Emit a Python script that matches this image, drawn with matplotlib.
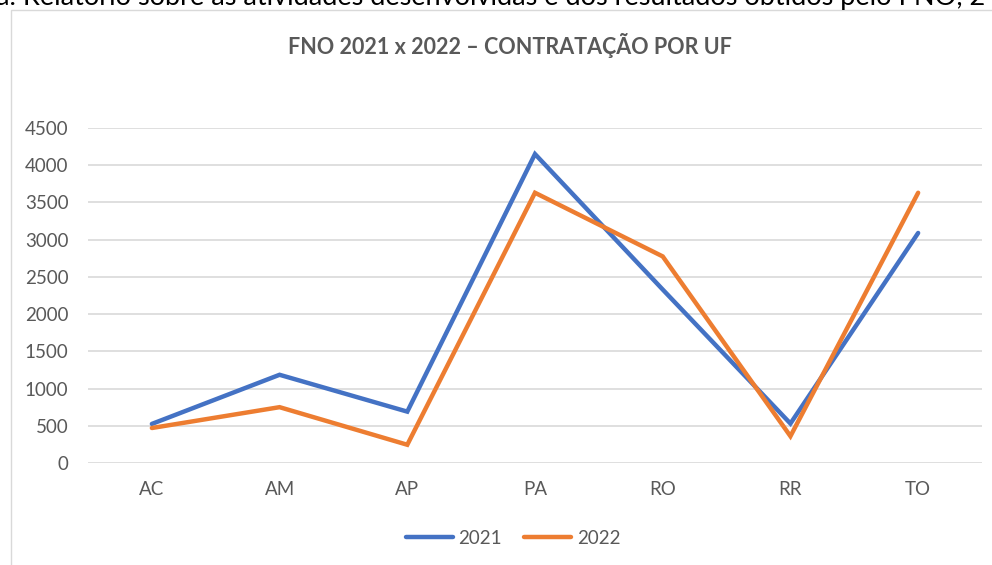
import matplotlib
matplotlib.use("Agg")
from matplotlib import pyplot as plt
from matplotlib.patches import Rectangle

ufs = ["AC", "AM", "AP", "PA", "RO", "RR", "TO"]
valores_2021 = [525, 1185, 690, 4150, 2330, 530, 3090]
valores_2022 = [470, 750, 245, 3630, 2775, 360, 3630]
yticks = [0, 500, 1000, 1500, 2000, 2500, 3000, 3500, 4000, 4500]

AZUL = "#4472C4"
LARANJA = "#ED7D31"
CINZA = "#595959"

plt.rcParams["font.family"] = ["Lato", "DejaVu Sans"]

fig = plt.figure(figsize=(9.92, 5.65), dpi=100)

# moldura do grafico
fig.patches.append(Rectangle((11 / 992, -0.05), 1.0, 1 - 10 / 565 + 0.05,
                             transform=fig.transFigure, fill=False,
                             edgecolor="#D9D9D9", linewidth=1.0))

# linha do texto do relatorio, cortada no topo
fig.text(-0.004, 1 - 5 / 565,
         "a. Relatório sobre as atividades desenvolvidas e dos resultados obtidos pelo FNO, 2",
         fontsize=19.5, color="black", va="baseline", ha="left")

ax = fig.add_axes([88 / 992, 1 - 463 / 565, (982 - 88) / 992, (463 - 128) / 565])
x = range(len(ufs))
ax.plot(x, valores_2021, color=AZUL, linewidth=3.2, label="2021",
        solid_joinstyle="miter", solid_capstyle="round")
ax.plot(x, valores_2022, color=LARANJA, linewidth=3.2, label="2022",
        solid_joinstyle="miter", solid_capstyle="round")

ax.set_xlim(-0.5, len(ufs) - 0.5)
ax.set_ylim(0, 4500)
ax.set_yticks(yticks)
ax.set_xticks(list(x))
ax.set_xticklabels(ufs)
ax.grid(axis="y", color="#D9D9D9", linewidth=1.2)
ax.set_axisbelow(True)
for s in ax.spines.values():
    s.set_visible(False)
ax.tick_params(axis="both", length=0, labelsize=13.5, colors=CINZA)
ax.tick_params(axis="y", pad=14)
ax.tick_params(axis="x", pad=13)

fig.text(510 / 992, 1 - 45 / 565, "FNO 2021 x 2022 – CONTRATAÇÃO POR UF",
         fontsize=15.5, fontweight="bold", color=CINZA, ha="center", va="center")

fig.legend(loc="center", bbox_to_anchor=(513 / 992, 1 - 538 / 565), ncol=2,
           frameon=False, fontsize=13.5, labelcolor=CINZA, handlelength=2.5,
           handletextpad=0.3, columnspacing=1.2)

fig.savefig("out.png", dpi=100)
